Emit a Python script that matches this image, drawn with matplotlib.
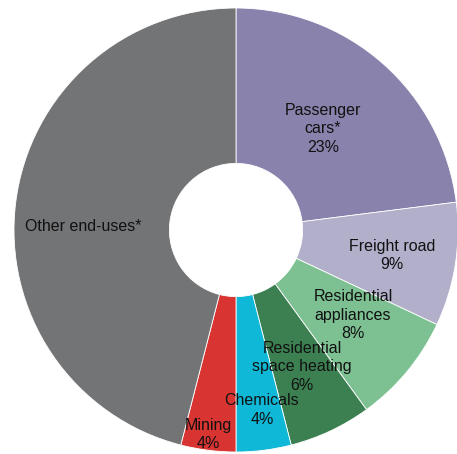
import matplotlib.pyplot as plt

plt.rcParams['font.family'] = ['Liberation Sans', 'DejaVu Sans']

labels = ["Passenger\ncars*", "Freight road", "Residential\nappliances",
          "Residential\nspace heating", "Chemicals", "Mining", "Other end-uses*"]
shares = [23, 9, 8, 6, 4, 4, 46]
show_pct = [True, True, True, True, True, True, False]
colors = ["#8982ac", "#b2afca", "#7dc192", "#3c8052", "#0eb8d6", "#d83532", "#737476"]

# label anchor points (data coords, pie radius = 1)
label_xy = [(0.392, 0.455), (0.703, -0.113), (0.527, -0.383), (0.297, -0.617),
            (0.117, -0.811), (-0.126, -0.923), (-0.95, 0.018)]

fig = plt.figure(figsize=(4.57, 4.54), dpi=100)
ax = fig.add_axes([0, 0, 1, 1])
ax.pie(shares, colors=colors, startangle=90, counterclock=False, radius=1,
       wedgeprops=dict(width=0.70, edgecolor="white", linewidth=0.6))

for lab, val, pct, (x, y) in zip(labels, shares, show_pct, label_xy):
    txt = f"{lab}\n{val}%" if pct else lab
    ha = "center" if pct else "left"
    ax.text(x, y, txt, ha=ha, va="center", fontsize=11.5, linespacing=1.26,
            color="#111111")

ax.set_xlim(-236 / 222, 221 / 222)
ax.set_ylim(-224 / 222, 230 / 222)
ax.set_aspect("equal")
ax.axis("off")

fig.savefig("out.png", dpi=100)
